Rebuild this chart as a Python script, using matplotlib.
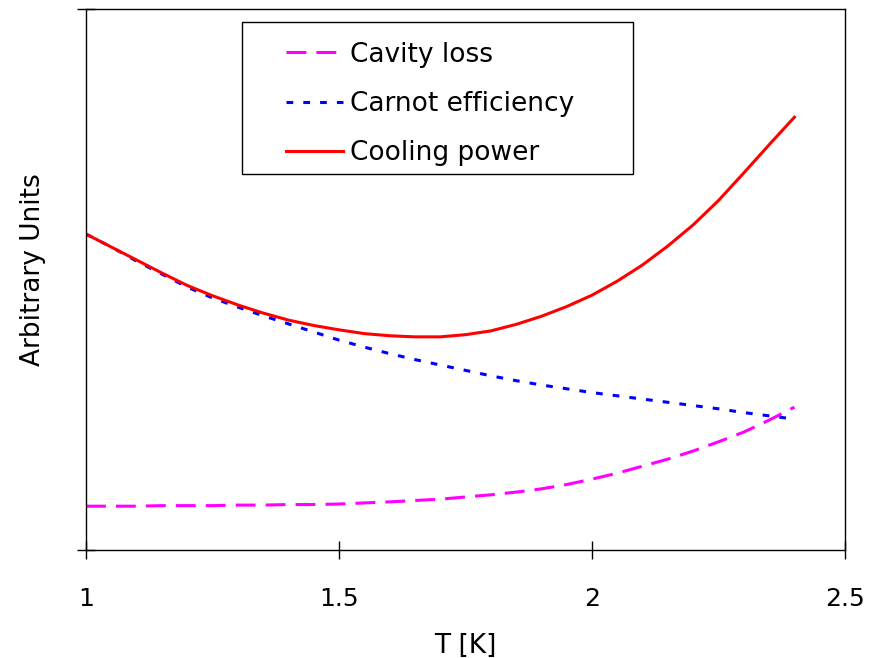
"""Cavity loss, Carnot efficiency and cooling power versus temperature."""

import matplotlib

matplotlib.use("Agg")
import matplotlib.pyplot as plt  # noqa: E402
from matplotlib.patches import Rectangle  # noqa: E402

# data (arbitrary units, axis spans 0..1)
temperature = [1.0, 1.05, 1.1, 1.15, 1.2, 1.25, 1.3, 1.35, 1.4, 1.45,
               1.5, 1.55, 1.6, 1.65, 1.7, 1.75, 1.8, 1.85, 1.9, 1.95,
               2.0, 2.05, 2.1, 2.15, 2.2, 2.25, 2.3, 2.35, 2.4]
cavity_loss = [0.081, 0.081, 0.081, 0.082, 0.082, 0.082, 0.083, 0.083,
               0.084, 0.084, 0.085, 0.087, 0.089, 0.0915, 0.094, 0.098,
               0.102, 0.107, 0.113, 0.121, 0.131, 0.142, 0.155, 0.168,
               0.183, 0.200, 0.218, 0.240, 0.264]
carnot_eff = [0.584, 0.560, 0.534, 0.510, 0.486, 0.466, 0.449, 0.433,
              0.418, 0.403, 0.388, 0.375, 0.363, 0.352, 0.342, 0.332,
              0.322, 0.313, 0.305, 0.298, 0.291, 0.285, 0.279, 0.273,
              0.267, 0.261, 0.254, 0.248, 0.242]
cooling_power = [0.584, 0.560, 0.536, 0.512, 0.489, 0.470, 0.453, 0.438,
                 0.425, 0.415, 0.407, 0.400, 0.396, 0.394, 0.394, 0.398,
                 0.405, 0.417, 0.432, 0.450, 0.471, 0.497, 0.527, 0.562,
                 0.601, 0.646, 0.697, 0.749, 0.800]

x_ticks = [1, 1.5, 2, 2.5]
x_tick_labels = ["1", "1.5", "2", "2.5"]

plt.rcParams.update({"font.family": "DejaVu Sans"})

fig = plt.figure(figsize=(8.71, 6.58), dpi=100)
ax = fig.add_axes([86 / 871, 108 / 658, 759 / 871, 541 / 658])

ax.plot(temperature, cavity_loss, color="#ff00ff", lw=2.2,
        linestyle=(0, (6.5, 3.3)), label="Cavity loss")
ax.plot(temperature, carnot_eff, color="#0000ff", lw=2.2,
        linestyle=(0, (2.2, 3.3)), label="Carnot efficiency")
ax.plot(temperature, cooling_power, color="#ff0000", lw=2.2,
        label="Cooling power")

ax.set_xlim(1, 2.5)
ax.set_ylim(0, 1)
ax.set_xticks(x_ticks, x_tick_labels)
ax.set_yticks([0, 1], ["", ""])
ax.tick_params(axis="both", direction="inout", length=13.5, width=1,
               color="black", labelsize=18, pad=20)
for spine in ax.spines.values():
    spine.set_color("black")
    spine.set_linewidth(1)

ax.set_xlabel("T [K]", fontsize=19)
ax.set_ylabel("Arbitrary Units", fontsize=19)
ax.xaxis.set_label_coords(0.5, -0.153)
ax.yaxis.set_label_coords(-0.0527, 0.519)

# legend box drawn separately: wide side padding, tight top/bottom
ax.add_patch(Rectangle((0.2055, 0.695), 0.5152, 0.281, transform=ax.transAxes,
                       facecolor="white", edgecolor="black", lw=1, zorder=4))
ax.legend(loc="upper left", bbox_to_anchor=(0.2635, 0.9397), frameon=False,
          fontsize=19, borderpad=0, borderaxespad=0, handlelength=2.16,
          handletextpad=0.27, labelspacing=0.88)

fig.savefig("out.png", dpi=100)
